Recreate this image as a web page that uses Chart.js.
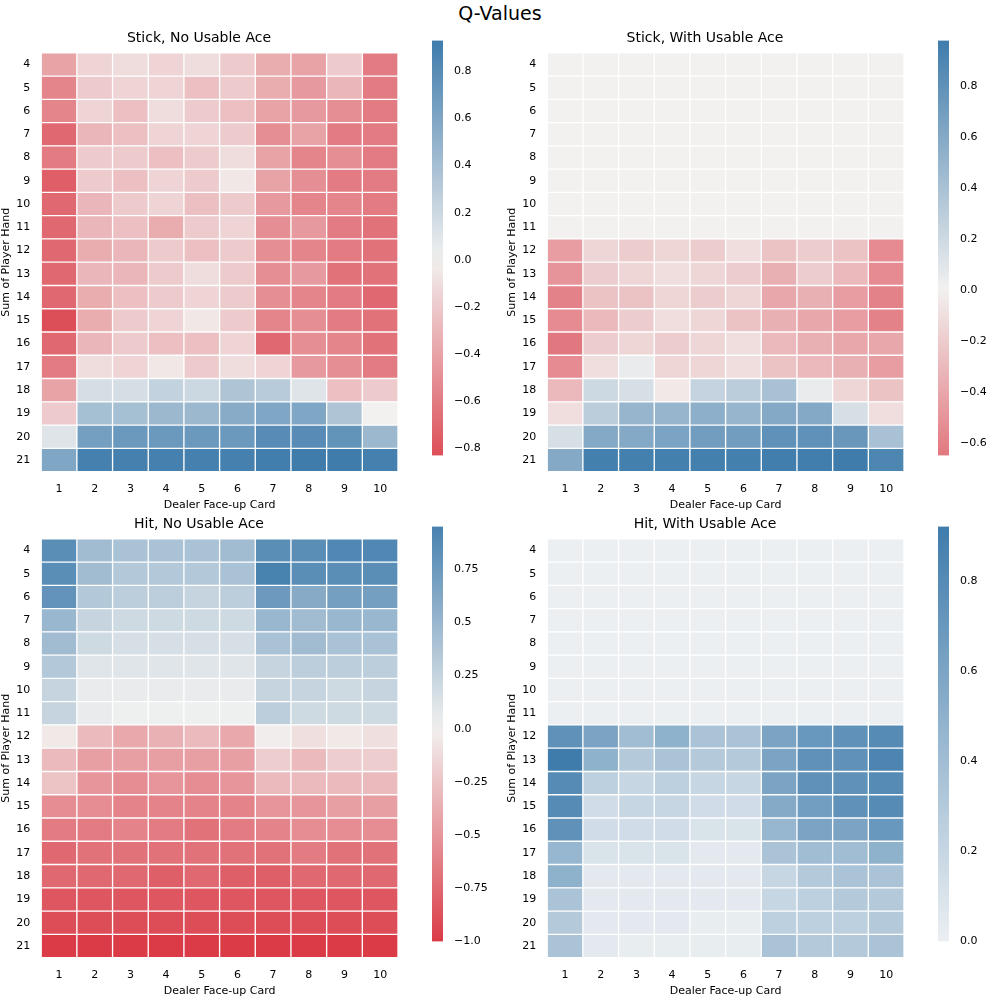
<!DOCTYPE html>
<html><head><meta charset="utf-8">
<script src="https://cdn.jsdelivr.net/npm/chart.js@4/dist/chart.umd.min.js"></script>
<style>
body{margin:0;background:#fff;width:1000px;height:1000px;position:relative;font-family:"DejaVu Sans";}
canvas{position:absolute;}
#title{position:absolute;top:2px;left:0;width:1000px;text-align:center;font-size:19px;color:#000;}
</style></head><body>
<div id="title">Q-Values</div>
<canvas id="h1"></canvas><canvas id="c1"></canvas>
<canvas id="h2"></canvas><canvas id="c2"></canvas>
<canvas id="h3"></canvas><canvas id="c3"></canvas>
<canvas id="h4"></canvas><canvas id="c4"></canvas>
<script>
var dealerCards = ["1","2","3","4","5","6","7","8","9","10"];
var playerSums = [4,5,6,7,8,9,10,11,12,13,14,15,16,17,18,19,20,21];
var zeros = [0,0,0,0,0,0,0,0,0,0];

var stickNoAce = [
 [-0.4,-0.15,-0.1,-0.15,-0.1,-0.2,-0.35,-0.4,-0.2,-0.6],
 [-0.55,-0.2,-0.15,-0.15,-0.25,-0.2,-0.35,-0.45,-0.3,-0.6],
 [-0.55,-0.15,-0.25,-0.1,-0.2,-0.25,-0.4,-0.45,-0.5,-0.6],
 [-0.7,-0.3,-0.25,-0.15,-0.15,-0.2,-0.5,-0.4,-0.6,-0.6],
 [-0.6,-0.2,-0.2,-0.25,-0.2,-0.1,-0.4,-0.55,-0.5,-0.6],
 [-0.75,-0.2,-0.25,-0.15,-0.2,-0.05,-0.4,-0.5,-0.6,-0.6],
 [-0.7,-0.3,-0.2,-0.15,-0.25,-0.2,-0.45,-0.55,-0.55,-0.6],
 [-0.7,-0.3,-0.25,-0.35,-0.2,-0.15,-0.5,-0.45,-0.6,-0.65],
 [-0.7,-0.35,-0.3,-0.2,-0.25,-0.2,-0.5,-0.55,-0.6,-0.65],
 [-0.7,-0.3,-0.3,-0.2,-0.1,-0.2,-0.5,-0.45,-0.65,-0.65],
 [-0.7,-0.35,-0.25,-0.2,-0.15,-0.2,-0.5,-0.55,-0.6,-0.7],
 [-0.83,-0.35,-0.2,-0.15,-0.05,-0.2,-0.55,-0.5,-0.6,-0.65],
 [-0.7,-0.3,-0.2,-0.25,-0.25,-0.15,-0.7,-0.5,-0.55,-0.65],
 [-0.6,-0.1,-0.15,-0.05,-0.2,-0.1,-0.15,-0.45,-0.5,-0.6],
 [-0.4,0.15,0.15,0.25,0.2,0.35,0.3,0.1,-0.25,-0.2],
 [-0.2,0.4,0.4,0.45,0.45,0.55,0.6,0.6,0.35,0.0],
 [0.1,0.65,0.7,0.7,0.7,0.7,0.8,0.8,0.75,0.45],
 [0.6,0.9,0.9,0.9,0.9,0.9,0.92,0.93,0.93,0.9]
];
var stickAce = [
 zeros,zeros,zeros,zeros,zeros,zeros,zeros,zeros,
 [-0.45,-0.15,-0.2,-0.15,-0.2,-0.1,-0.25,-0.2,-0.25,-0.55],
 [-0.5,-0.2,-0.15,-0.1,-0.15,-0.2,-0.35,-0.2,-0.3,-0.55],
 [-0.6,-0.25,-0.25,-0.15,-0.2,-0.15,-0.4,-0.35,-0.45,-0.6],
 [-0.55,-0.3,-0.2,-0.1,-0.15,-0.25,-0.35,-0.4,-0.45,-0.6],
 [-0.65,-0.2,-0.15,-0.2,-0.15,-0.1,-0.3,-0.35,-0.4,-0.4],
 [-0.55,-0.1,0.05,-0.15,-0.15,-0.1,-0.25,-0.3,-0.35,-0.45],
 [-0.3,0.2,0.15,-0.05,0.25,0.3,0.4,0.05,-0.15,-0.25],
 [-0.1,0.3,0.5,0.5,0.55,0.5,0.6,0.6,0.15,-0.1],
 [0.15,0.6,0.6,0.65,0.7,0.7,0.8,0.8,0.75,0.4],
 [0.6,0.95,0.95,0.95,0.95,0.95,0.97,0.97,0.98,0.9]
];
var hitNoAce = [
 [0.85,0.45,0.4,0.4,0.4,0.45,0.85,0.85,0.9,0.9],
 [0.85,0.45,0.35,0.35,0.35,0.4,0.95,0.85,0.85,0.85],
 [0.8,0.35,0.3,0.3,0.25,0.3,0.75,0.6,0.7,0.7],
 [0.5,0.25,0.2,0.2,0.2,0.2,0.5,0.45,0.5,0.5],
 [0.45,0.2,0.15,0.15,0.15,0.15,0.4,0.45,0.4,0.4],
 [0.35,0.1,0.1,0.1,0.1,0.1,0.25,0.3,0.3,0.3],
 [0.25,0.05,0.05,0.05,0.05,0.05,0.25,0.25,0.2,0.25],
 [0.25,0.05,0.02,0.02,0.02,0.02,0.3,0.2,0.2,0.2],
 [-0.05,-0.3,-0.4,-0.35,-0.3,-0.4,-0.02,-0.1,-0.05,-0.1],
 [-0.3,-0.45,-0.45,-0.45,-0.45,-0.45,-0.2,-0.3,-0.2,-0.2],
 [-0.25,-0.5,-0.55,-0.5,-0.55,-0.5,-0.3,-0.3,-0.3,-0.3],
 [-0.55,-0.55,-0.6,-0.6,-0.6,-0.6,-0.5,-0.5,-0.45,-0.45],
 [-0.65,-0.65,-0.6,-0.65,-0.7,-0.65,-0.6,-0.55,-0.55,-0.55],
 [-0.75,-0.7,-0.7,-0.7,-0.7,-0.7,-0.7,-0.65,-0.7,-0.7],
 [-0.75,-0.75,-0.75,-0.8,-0.75,-0.8,-0.8,-0.75,-0.75,-0.75],
 [-0.85,-0.85,-0.85,-0.85,-0.85,-0.85,-0.85,-0.85,-0.85,-0.85],
 [-0.9,-0.9,-0.9,-0.9,-0.9,-0.9,-0.9,-0.9,-0.9,-0.9],
 [-1,-1,-1,-1,-1,-1,-1,-1,-1,-1]
];
var hitAce = [
 zeros,zeros,zeros,zeros,zeros,zeros,zeros,zeros,
 [0.75,0.6,0.4,0.5,0.35,0.35,0.6,0.7,0.75,0.8],
 [0.92,0.5,0.3,0.35,0.3,0.3,0.6,0.75,0.75,0.85],
 [0.8,0.25,0.2,0.25,0.2,0.2,0.6,0.75,0.75,0.8],
 [0.8,0.15,0.2,0.2,0.15,0.15,0.55,0.65,0.75,0.8],
 [0.75,0.15,0.15,0.15,0.1,0.1,0.45,0.6,0.6,0.7],
 [0.45,0.1,0.1,0.1,0.05,0.05,0.35,0.4,0.4,0.5],
 [0.5,0.05,0.05,0.05,0.05,0.05,0.2,0.3,0.35,0.35],
 [0.35,0.05,0.05,0.05,0.05,0.05,0.2,0.25,0.3,0.3],
 [0.3,0.05,0.05,0.05,0.02,0.02,0.25,0.25,0.25,0.3],
 [0.35,0.05,0.02,0.02,0.02,0.02,0.35,0.3,0.3,0.35]
];

var RED = [218,59,70], MID = [242,241,240], BLUE = [63,124,172], LIGHT = [236,239,242];
function mix(a, b, t){
    return "rgb(" + a.map(function(x, i){ return Math.round(x + (b[i] - x) * t); }).join(",") + ")";
}
function minMax(m){
    var all = [].concat.apply([], m);
    return [Math.min.apply(null, all), Math.max.apply(null, all)];
}
function makeColor(diverging, lo, hi){
    if(diverging){
        var a = Math.max(Math.abs(lo), Math.abs(hi));
        return function(v){ return v < 0 ? mix(MID, RED, -v / a) : mix(MID, BLUE, v / a); };
    }
    return function(v){ return mix(LIGHT, BLUE, (v - lo) / (hi - lo)); };
}
function place(id, l, t, w, h){
    var c = document.getElementById(id);
    c.style.left = l + "px"; c.style.top = t + "px";
    c.style.width = w + "px"; c.style.height = h + "px";
    c.width = w; c.height = h;
    return c;
}
var font = {family: "DejaVu Sans", size: 11};

function heatmap(id, cbId, left, top, title, matrix, diverging, cbStep){
    var mm = minMax(matrix), color = makeColor(diverging, mm[0], mm[1]);
    var datasets = [];
    for(var r = matrix.length - 1; r >= 0; r--){
        datasets.push({
            label: String(playerSums[r]),
            data: matrix[r].map(function(){ return 1; }),
            backgroundColor: matrix[r].map(color),
            borderColor: "#fff", borderWidth: 1, borderSkipped: false,
            barPercentage: 1, categoryPercentage: 1
        });
    }
    new Chart(place(id, left, top, 410, 482), {
        type: "bar",
        data: {labels: dealerCards, datasets: datasets},
        options: {
            responsive: false, animation: false,
            layout: {padding: {right: 12}},
            plugins: {legend: {display: false}, tooltip: {enabled: false},
                title: {display: true, text: title, color: "#000", font: {family: "DejaVu Sans", size: 14, weight: "normal"}, padding: {top: 0, bottom: 6}}},
            scales: {
                x: {stacked: true, grid: {display: false}, border: {display: false},
                    ticks: {color: "#000", font: font},
                    title: {display: true, text: "Dealer Face-up Card", color: "#000", font: font, padding: 0}},
                y: {stacked: true, min: 0, max: 18, reverse: false, grid: {display: false}, border: {display: false},
                    afterBuildTicks: function(ax){
                        ax.ticks = playerSums.map(function(s, i){ return {value: i + 0.5}; });
                    },
                    ticks: {color: "#000", font: font, autoSkip: false,
                        callback: function(v){ return String(21 - Math.floor(v)); }},
                    title: {display: true, text: "Sum of Player Hand", color: "#000", font: font, padding: 0}}
            }
        }
    });
    var lo = mm[0], hi = mm[1];
    var gradientBar = {
        id: "grad",
        beforeDatasetsDraw: function(ch){
            var a = ch.chartArea, ctx = ch.ctx, g = ctx.createLinearGradient(0, a.bottom, 0, a.top);
            for(var i = 0; i <= 20; i++){ g.addColorStop(i / 20, color(lo + (hi - lo) * i / 20)); }
            ctx.fillStyle = g;
            ctx.fillRect(a.left, a.top, a.right - a.left, a.bottom - a.top);
        }
    };
    new Chart(place(cbId, left + 425, top + 1, 70, 434), {
        type: "bar",
        data: {labels: [""], datasets: [{data: [0]}]},
        plugins: [gradientBar],
        options: {
            responsive: false, animation: false,
            layout: {padding: {top: 0, bottom: 1, left: 7}},
            plugins: {legend: {display: false}, tooltip: {enabled: false}},
            scales: {
                x: {display: false},
                y: {position: "right", min: lo, max: hi, grid: {display: false, drawTicks: true}, border: {display: false},
                    afterFit: function(ax){ ax.width = 52; },
                    afterBuildTicks: function(ax){
                        var t = [], s = Math.ceil(lo / cbStep - 1e-9) * cbStep;
                        for(var v = s; v <= hi + 1e-9; v += cbStep){ t.push({value: Math.round(v * 100) / 100}); }
                        ax.ticks = t;
                    },
                    ticks: {color: "#000", font: font,
                        callback: function(v){ return (v < 0 ? "\u2212" + Math.abs(v) : String(v)).replace(/^(\u2212?)(\d)$/, "$1$2.0").replace(/^(\u2212?)0\.(\d)$/, "$10.$2").replace(/^(\u2212?\d\.\d)$/, "$1"); }}}
            }
        }
    });
}
heatmap("h1", "c1", 0, 30, "Stick, No Usable Ace", stickNoAce, true, 0.2);
heatmap("h2", "c2", 506, 30, "Stick, With Usable Ace", stickAce, true, 0.2);
heatmap("h3", "c3", 0, 516, "Hit, No Usable Ace", hitNoAce, true, 0.25);
heatmap("h4", "c4", 506, 516, "Hit, With Usable Ace", hitAce, false, 0.2);
</script>
</body></html>
